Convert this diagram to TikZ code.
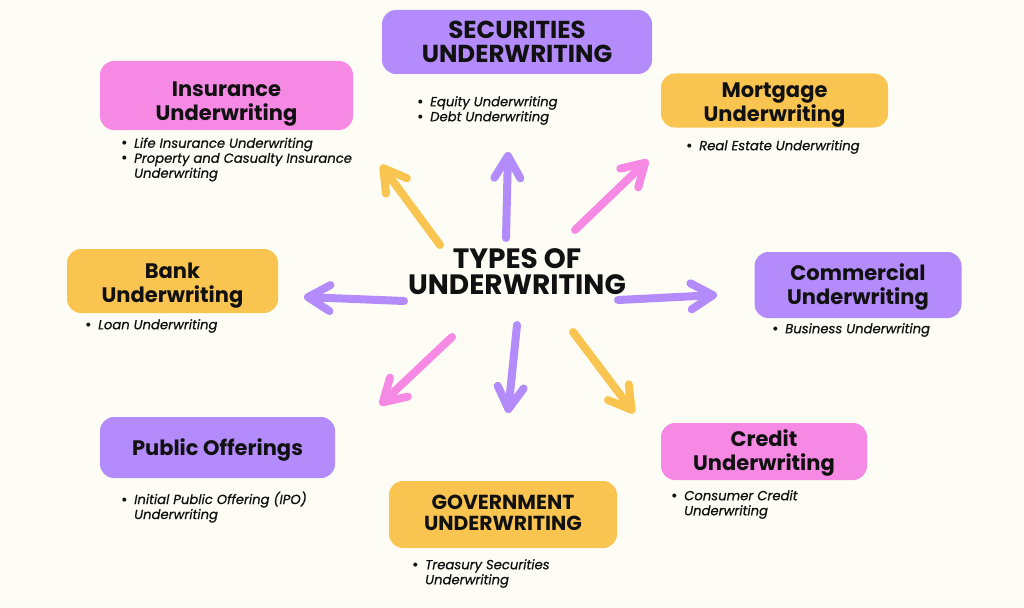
\documentclass[tikz,border=0pt]{standalone}
\usepackage{fontspec}
\setmainfont{Poppins}
\newfontfamily\blfont{Poppins}[ItalicFeatures={FakeBold=0.7}]
\usetikzlibrary{arrows.meta}
\definecolor{bg}{HTML}{FDFDF6}
\definecolor{cpur}{HTML}{B38BFA}
\definecolor{cpink}{HTML}{F589E3}
\definecolor{cyel}{HTML}{F9C550}
\definecolor{ink}{HTML}{111111}
\newcommand{\bit}{\makebox[13pt][l]{\upshape\bfseries\textbullet}}
\newcommand{\bin}{\hspace*{13pt}}
\newcommand{\lowr}[2]{\raisebox{-#1}[\height][\depth]{\begin{tabular}{@{}c@{}}#2\end{tabular}}}
\begin{document}
\begin{tikzpicture}[x=1pt,y=-1pt,
  box/.style={rounded corners=14pt, inner sep=0pt, align=center, text=ink,
    font=\bfseries\fontsize{21}{24}\selectfont},
  capbox/.style={box, font=\bfseries\fontsize{24.5}{23}\selectfont},
  blist/.style={anchor=north west, inner sep=0pt, align=left, text=ink,
    font=\blfont\itshape\fontsize{13.2}{15}\selectfont},
  arr/.style={line width=8pt, line cap=round,
    -{Straight Barb[length=22pt,width=26pt,round]}}]
\fill[bg] (0,0) rectangle (1024,607);
\useasboundingbox (0,0) rectangle (1024,607);

% title
\node[align=center, text=ink, inner sep=0pt, font=\bfseries\fontsize{28}{26}\selectfont] (title) at (517,272) {TYPES OF\\UNDERWRITING};

% boxes
\node[capbox, fill=cpur, minimum width=270pt, minimum height=64pt] (sec) at (517,42) {\lowr{3pt}{SECURITIES\\UNDERWRITING}};
\node[box, fill=cpink, minimum width=253pt, minimum height=69pt] (ins) at (226.5,95.5) {\lowr{8pt}{Insurance\\Underwriting}};
\node[box, fill=cyel, minimum width=227pt, minimum height=54pt] (mort) at (774.5,100.5) {\lowr{4.5pt}{Mortgage\\Underwriting}};
\node[box, fill=cyel, minimum width=211pt, minimum height=64pt] (bank) at (172.5,281) {\lowr{5pt}{Bank\\Underwriting}};
\node[box, fill=cpur, minimum width=207pt, minimum height=66pt] (comm) at (858,285) {\lowr{3pt}{Commercial\\Underwriting}};
\node[box, fill=cpur, minimum width=235pt, minimum height=61pt] (pub) at (217.5,447.5) {\lowr{3pt}{Public Offerings}};
\node[capbox, fill=cyel, minimum width=228pt, minimum height=67pt, font=\bfseries\fontsize{20.3}{21}\selectfont] (gov) at (503,514.5) {\lowr{1.5pt}{GOVERNMENT\\UNDERWRITING}};
\node[box, fill=cpink, minimum width=206pt, minimum height=57pt] (cred) at (764,451.5) {\lowr{2.5pt}{Credit\\Underwriting}};

% bullet lists
\node[blist] (secl) at (417,96) {\bit Equity Underwriting\\\bit Debt Underwriting};
\node[blist] (insl) at (121,137.5) {\bit Life Insurance Underwriting\\\bit Property and Casualty Insurance\\\bin Underwriting};
\node[blist] (mortl) at (686,140) {\bit Real Estate Underwriting};
\node[blist] (bankl) at (85,319) {\bit Loan Underwriting};
\node[blist] (comml) at (772,323) {\bit Business Underwriting};
\node[blist] (publ) at (121,491.5) {\bit Initial Public Offering (IPO)\\\bin Underwriting};
\node[blist] (govl) at (412,559) {\bit Treasury Securities\\\bin Underwriting};
\node[blist] (credl) at (671,490) {\bit Consumer Credit\\\bin Underwriting};

% arrow ends
\coordinate (t1) at (440,245); \coordinate (h1) at (381,165);
\coordinate (t2) at (506,238); \coordinate (h2) at (508,152);
\coordinate (t3) at (575,230); \coordinate (h3) at (648,160);
\coordinate (t4) at (404,301); \coordinate (h4) at (304,297);
\coordinate (t5) at (618,300); \coordinate (h5) at (717,295);
\coordinate (t6) at (452,337); \coordinate (h6) at (380,405);
\coordinate (t7) at (517,325); \coordinate (h7) at (508,413);
\coordinate (t8) at (573,332); \coordinate (h8) at (634,413);

\draw[arr, cyel] (t1) -- (h1);
\draw[arr, cpur] (t2) -- (h2);
\draw[arr, cpink] (t3) -- (h3);
\draw[arr, cpur] (t4) -- (h4);
\draw[arr, cpur] (t5) -- (h5);
\draw[arr, cpink] (t6) -- (h6);
\draw[arr, cpur] (t7) -- (h7);
\draw[arr, cyel] (t8) -- (h8);
\end{tikzpicture}
\end{document}
